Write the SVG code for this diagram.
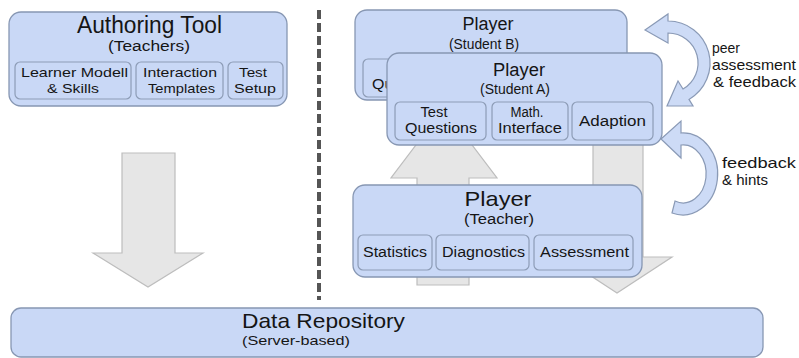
<svg xmlns="http://www.w3.org/2000/svg" width="799" height="358" viewBox="0 0 799 358">
<style>
.box{fill:#c9d8f6;stroke:#8797b3;stroke-width:1.3}
.sub{fill:#c9d8f6;stroke:#8d9cb6;stroke-width:1.2}
.blk{fill:#e6e6e6;stroke:#bdbdbd;stroke-width:1.2}
.crv{fill:#cddbf6;stroke:#8a9ab6;stroke-width:1.2}
text{font-family:"Liberation Sans",Arial,sans-serif;fill:#151515}
.m{text-anchor:middle}
.ttl{font-size:23px}
.pl{font-size:18px}
.par{font-size:14px}
.s{font-size:14px}
.a{font-size:13.5px}
.lb{font-size:15px}
</style>
<rect width="799" height="358" fill="#ffffff"/>
<line x1="319" y1="10" x2="319" y2="300" stroke="#555" stroke-width="4" stroke-dasharray="9 4"/>
<g id="connectors">
  <polygon class="blk" points="122,153 175,153 175,253 203,253 148,287 93,253 122,253"/>
  <polygon class="blk" points="417,285 417,178 391,178 444,108 497,178 469,178 469,285"/>
  <polygon class="blk" points="593,120 643,120 643,257 672,257 617,293 562,257 593,257"/>
  <path class="crv" d="M645,30 L668,14 L668,21 A42 42 0 0 1 689,99.4 L693,106 L667,106 L678,81 L683,89 A30 30 0 0 0 668,33 L668,43 Z"/>
  <path class="crv" d="M661,139 L681,121 L681,133 A35 41 0 1 1 672,213 L675,201 A23 29 0 1 0 681,145 L681,158 Z"/>
</g>
<g id="authoring">
  <rect class="box" x="9" y="12" width="278" height="94" rx="12"/>
  <text class="m ttl" x="149.5" y="33" textLength="145" lengthAdjust="spacingAndGlyphs">Authoring Tool</text>
  <text class="m par" x="149" y="51" textLength="82" lengthAdjust="spacingAndGlyphs">(Teachers)</text>
  <rect class="sub" x="15" y="62" width="116" height="37" rx="5"/>
  <rect class="sub" x="136" y="62" width="87" height="37" rx="5"/>
  <rect class="sub" x="228" y="62" width="55" height="37" rx="5"/>
  <text class="m a" x="74.5" y="77" textLength="107" lengthAdjust="spacingAndGlyphs">Learner Modell</text>
  <text class="m a" x="73" y="93" textLength="52" lengthAdjust="spacingAndGlyphs">&amp; Skills</text>
  <text class="m a" x="180" y="77" textLength="74" lengthAdjust="spacingAndGlyphs">Interaction</text>
  <text class="m a" x="181.5" y="93" textLength="67" lengthAdjust="spacingAndGlyphs">Templates</text>
  <text class="m a" x="253" y="77" textLength="28" lengthAdjust="spacingAndGlyphs">Test</text>
  <text class="m a" x="255" y="93" textLength="42" lengthAdjust="spacingAndGlyphs">Setup</text>
</g>
<g id="player-student-b">
  <rect class="box" x="355" y="10" width="272" height="90" rx="12"/>
  <text class="m pl" x="488" y="30" textLength="51" lengthAdjust="spacingAndGlyphs">Player</text>
  <text class="m par" x="484" y="49" textLength="70" lengthAdjust="spacingAndGlyphs">(Student B)</text>
  <rect class="sub" x="363" y="59" width="91" height="38" rx="5"/>
  <text class="m s" x="408" y="89" textLength="72" lengthAdjust="spacingAndGlyphs">Questions</text>
</g>
<g id="player-student-a">
  <rect class="box" x="387" y="53" width="275" height="92" rx="12"/>
  <text class="m pl" x="519" y="76" textLength="52" lengthAdjust="spacingAndGlyphs">Player</text>
  <text class="m par" x="515" y="94" textLength="70" lengthAdjust="spacingAndGlyphs">(Student A)</text>
  <rect class="sub" x="395" y="102" width="91" height="38" rx="5"/>
  <rect class="sub" x="492" y="102" width="76" height="38" rx="5"/>
  <rect class="sub" x="572" y="102" width="81" height="38" rx="5"/>
  <text class="m s" x="434" y="116.5" textLength="27" lengthAdjust="spacingAndGlyphs">Test</text>
  <text class="m s" x="441" y="132.5" textLength="72" lengthAdjust="spacingAndGlyphs">Questions</text>
  <text class="m s" x="527" y="116.5" textLength="33" lengthAdjust="spacingAndGlyphs">Math.</text>
  <text class="m s" x="530" y="132.5" textLength="64" lengthAdjust="spacingAndGlyphs">Interface</text>
  <text class="m s" x="612.5" y="126" textLength="67" lengthAdjust="spacingAndGlyphs">Adaption</text>
</g>
<g id="player-teacher">
  <rect class="box" x="353" y="185" width="289" height="92" rx="12"/>
  <text class="m" x="498" y="206" font-size="21" textLength="67" lengthAdjust="spacingAndGlyphs">Player</text>
  <text class="m par" x="499" y="224" textLength="70" lengthAdjust="spacingAndGlyphs">(Teacher)</text>
  <rect class="sub" x="358" y="235" width="74" height="35" rx="5"/>
  <rect class="sub" x="436" y="235" width="93" height="35" rx="5"/>
  <rect class="sub" x="534" y="235" width="99" height="35" rx="5"/>
  <text class="m s" x="395" y="257" textLength="64" lengthAdjust="spacingAndGlyphs">Statistics</text>
  <text class="m s" x="483.5" y="257" textLength="83" lengthAdjust="spacingAndGlyphs">Diagnostics</text>
  <text class="m s" x="584.5" y="257" textLength="89" lengthAdjust="spacingAndGlyphs">Assessment</text>
</g>
<g id="data-repository">
  <rect class="box" x="11" y="308" width="752" height="49" rx="10"/>
  <text x="242" y="328" font-size="21" textLength="163" lengthAdjust="spacingAndGlyphs">Data Repository</text>
  <text x="242" y="345" font-size="13" textLength="108" lengthAdjust="spacingAndGlyphs">(Server-based)</text>
</g>
<g id="labels">
  <text class="lb" x="712" y="53" textLength="28" lengthAdjust="spacingAndGlyphs">peer</text>
  <text class="lb" x="712" y="70" textLength="84" lengthAdjust="spacingAndGlyphs">assessment</text>
  <text class="lb" x="713" y="87" textLength="83" lengthAdjust="spacingAndGlyphs">&amp; feedback</text>
  <text class="lb" x="722" y="168" textLength="74" lengthAdjust="spacingAndGlyphs">feedback</text>
  <text class="lb" x="722" y="185" textLength="46" lengthAdjust="spacingAndGlyphs">&amp; hints</text>
</g>
</svg>
